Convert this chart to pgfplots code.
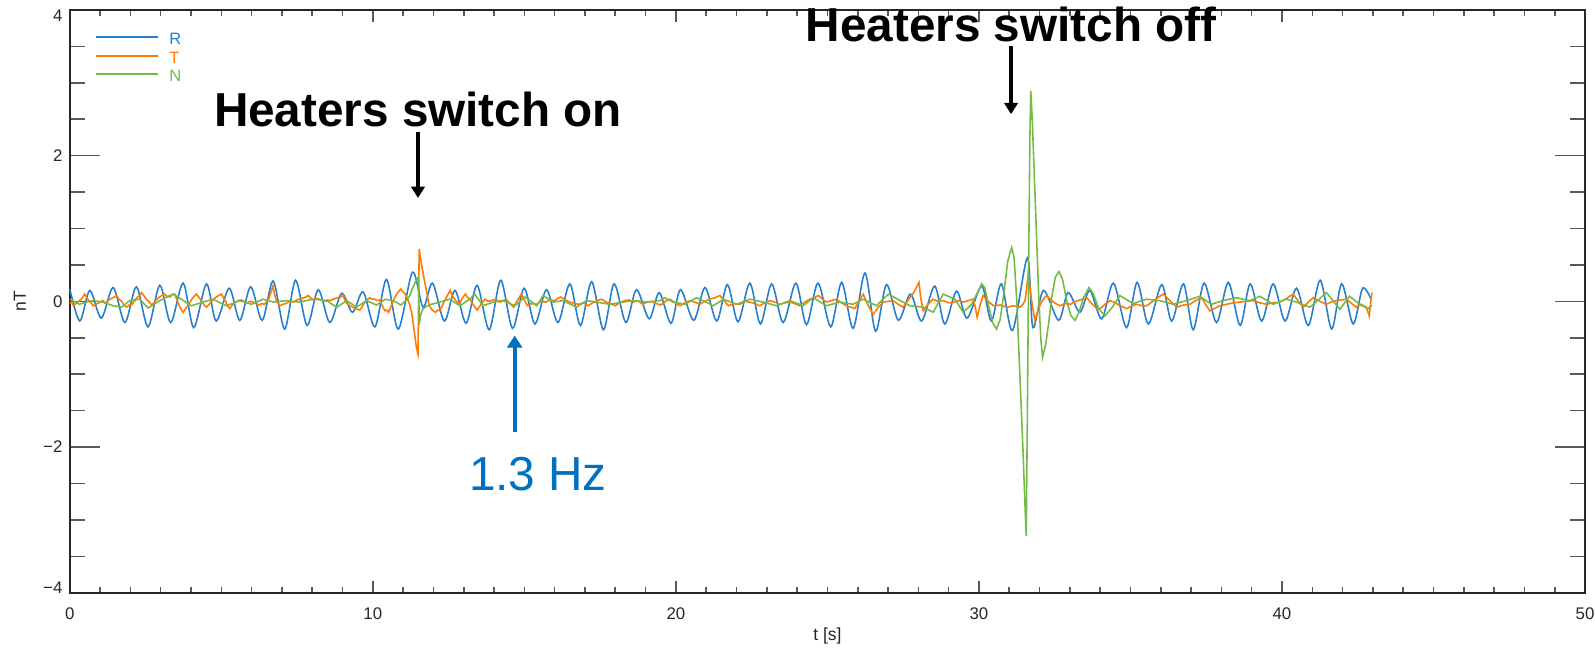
\documentclass[border=0pt]{standalone}
\usepackage{fontspec}
\setmainfont{Liberation Sans}
\usepackage{pgfplots}
\pgfplotsset{compat=1.18}
\usetikzlibrary{arrows.meta}
\definecolor{cR}{RGB}{38,126,204}
\definecolor{cT}{RGB}{255,122,0}
\definecolor{cN}{RGB}{116,186,70}
\definecolor{cArrow}{RGB}{0,112,192}
\begin{document}
\begin{tikzpicture}
\begin{axis}[
  scale only axis, width=15.197cm, height=5.845cm,
  xmin=0, xmax=50, ymin=-4, ymax=4,
  xtick={0,10,20,30,40,50}, ytick={-4,-2,0,2,4},
  yticklabels={\raisebox{0.05cm}[\height][\depth]{−4}, −2, 0, 2, \raisebox{-0.06cm}[\height][\depth]{4}},
  minor x tick num=9, minor y tick num=3,
  tick align=inside,
  xtick style={/pgfplots/major tick length=0.117cm, /pgfplots/minor tick length=0.058cm, black!65, line width=0.45pt},
  ytick style={/pgfplots/major tick length=0.30cm, /pgfplots/minor tick length=0.15cm, black!65, line width=0.45pt},
  axis line style={black!85, line width=0.5pt},
  /pgf/number format/assume math mode=true,
  ticklabel style={font=\fontsize{4.8}{5}\selectfont, text=black!85},
  xticklabel style={anchor=center, yshift=-0.215cm},
  yticklabel style={anchor=east, inner sep=0pt, xshift=-0.067cm},
  xlabel={t [s]}, ylabel={nT},
  label style={font=\fontsize{5}{6}\selectfont, text=black!85},
  xlabel style={at={(axis description cs:0.5,0)}, anchor=center, yshift=-0.434cm},
  ylabel style={at={([xshift=-0.5cm]axis description cs:0,0.5)}, anchor=center},
  clip=false,
  legend style={at={(rel axis cs:0.0165,1)}, anchor=north west, yshift=-0.23cm,
    draw=none, fill=none, inner sep=0pt, outer sep=0pt,
    font=\fontsize{4.7}{5}\selectfont, row sep=1.9pt,
    nodes={inner sep=0pt, text height=3.4pt, text depth=0pt}},
  legend cell align=left,
  legend image code/.code={\draw[#1, line width=0.5pt] (0cm,0.5pt) -- (0.63cm,0.5pt);},
]
\addplot[cR, line width=0.45pt, smooth] coordinates {
(0,0.17)(0.33,-0.27)(0.66,0.15)(1.04,-0.23)(1.43,0.19)(1.82,-0.29)(2.20,0.20)(2.58,-0.35)(2.97,0.22)(3.33,-0.29)
(3.74,0.25)(4.09,-0.36)(4.51,0.24)(4.83,-0.27)(5.26,0.18)(5.61,-0.26)(5.97,0.20)(6.35,-0.26)(6.71,0.28)(7.09,-0.38)
(7.45,0.29)(7.83,-0.33)(8.20,0.16)(8.58,-0.29)(8.97,0.11)(9.33,-0.15)(9.68,0.13)(10.07,-0.35)(10.45,0.30)(10.84,-0.38)
(11.31,0.40)(11.66,-0.08)(11.97,0.25)(12.36,-0.27)(12.71,0.15)(13.08,-0.30)(13.44,0.22)(13.84,-0.39)(14.22,0.29)(14.61,-0.37)
(14.99,0.18)(15.35,-0.31)(15.73,0.16)(16.11,-0.29)(16.50,0.24)(16.85,-0.33)(17.22,0.27)(17.61,-0.39)(17.96,0.24)(18.35,-0.29)
(18.70,0.16)(19.12,-0.24)(19.45,0.12)(19.84,-0.30)(20.15,0.16)(20.59,-0.26)(20.96,0.19)(21.35,-0.27)(21.70,0.23)(22.05,-0.28)
(22.44,0.25)(22.79,-0.31)(23.16,0.24)(23.54,-0.29)(23.96,0.25)(24.31,-0.32)(24.69,0.25)(25.11,-0.35)(25.47,0.26)(25.85,-0.37)
(26.24,0.39)(26.59,-0.41)(26.95,0.23)(27.34,-0.26)(27.74,0.10)(28.11,-0.27)(28.54,0.21)(28.87,-0.31)(29.26,0.14)(29.61,-0.23)
(30.09,0.21)(30.41,-0.27)(30.74,0.24)(31.11,-0.40)(31.60,0.60)(31.78,-0.36)(32.13,0.15)(32.63,-0.26)(32.94,0.12)(33.33,-0.15)
(33.66,0.15)(34.05,-0.24)(34.44,0.25)(34.87,-0.36)(35.22,0.26)(35.59,-0.31)(36.03,0.23)(36.36,-0.27)(36.75,0.24)(37.07,-0.39)
(37.43,0.25)(37.84,-0.29)(38.23,0.26)(38.62,-0.33)(38.95,0.24)(39.33,-0.27)(39.71,0.24)(40.10,-0.27)(40.48,0.18)(40.87,-0.33)
(41.26,0.29)(41.64,-0.38)(41.97,0.24)(42.35,-0.31)(42.66,0.18)(42.95,0.02)
};
\addlegendentry{\hspace{0.1cm}\textcolor{cR}{R}}
\addplot[cT, line width=0.45pt] coordinates {
(0,-0.03)(0.06,-0.01)(0.12,-0.06)(0.2,-0.03)(0.32,0.01)(0.4,0.04)(0.49,0.10)(0.55,0.06)(0.61,0.02)(0.7,-0.02)
(0.77,-0.06)(0.86,-0.04)(0.96,-0.02)(1.03,0.0)(1.09,0.01)(1.15,-0.02)(1.21,-0.01)(1.3,0.02)(1.41,0.05)(1.48,0.06)
(1.54,0.08)(1.62,0.03)(1.71,0.0)(1.79,-0.05)(1.87,-0.08)(1.96,-0.05)(2.06,-0.04)(2.13,0.0)(2.21,0.05)(2.3,0.08)
(2.37,0.12)(2.44,0.08)(2.51,0.04)(2.6,0.0)(2.7,-0.05)(2.8,-0.01)(2.9,0.04)(3.0,0.07)(3.13,0.10)(3.21,0.07)
(3.3,0.06)(3.38,0.09)(3.46,0.10)(3.53,0.03)(3.6,-0.05)(3.67,-0.11)(3.74,-0.15)(3.84,-0.09)(3.95,-0.02)(4.06,0.05)
(4.18,0.10)(4.27,0.05)(4.35,0.0)(4.43,-0.05)(4.51,-0.08)(4.62,-0.03)(4.74,0.03)(4.87,0.07)(5.0,0.10)(5.07,0.05)
(5.14,0.0)(5.21,-0.06)(5.28,-0.10)(5.36,-0.05)(5.44,-0.02)(5.55,0.01)(5.66,0.02)(5.75,0.0)(5.84,-0.02)(5.95,0.0)
(6.05,-0.01)(6.14,-0.03)(6.24,-0.05)(6.33,-0.03)(6.43,-0.04)(6.51,0.0)(6.58,0.05)(6.65,0.14)(6.70,0.21)(6.76,0.09)
(6.83,0.0)(6.93,-0.06)(7.03,-0.04)(7.13,-0.03)(7.25,0.0)(7.37,-0.01)(7.5,0.02)(7.63,0.04)(7.75,0.05)(7.86,0.08)
(7.94,0.05)(8.02,0.02)(8.13,0.04)(8.24,0.03)(8.34,0.01)(8.43,0.0)(8.5,0.02)(8.58,0.01)(8.7,0.03)(8.83,0.05)
(8.93,0.06)(9.02,0.08)(9.07,0.03)(9.12,-0.02)(9.18,-0.04)(9.24,-0.06)(9.33,-0.08)(9.42,-0.10)(9.5,-0.11)(9.57,-0.12)
(9.65,-0.07)(9.72,-0.02)(9.81,0.02)(9.90,0.05)(9.98,0.03)(10.07,0.03)(10.15,0.01)(10.23,0.02)(10.31,-0.06)(10.40,-0.13)
(10.46,-0.12)(10.52,-0.15)(10.62,-0.05)(10.72,0.05)(10.82,0.12)(10.92,0.17)(11.0,0.13)(11.07,0.10)(11.15,0.03)(11.22,-0.05)
(11.28,-0.15)(11.33,-0.30)(11.39,-0.48)(11.44,-0.64)(11.49,-0.72)(11.53,0.72)(11.57,0.60)(11.62,0.48)(11.67,0.36)(11.72,0.25)
(11.79,0.10)(11.86,-0.06)(11.96,-0.12)(12.07,-0.15)(12.14,-0.12)(12.21,-0.13)(12.29,-0.06)(12.36,0.0)(12.46,0.08)(12.55,0.15)
(12.62,0.08)(12.70,0.03)(12.78,-0.01)(12.85,-0.04)(12.95,0.04)(13.05,0.10)(13.12,0.06)(13.20,0.03)(13.32,-0.05)(13.44,-0.12)
(13.57,-0.04)(13.70,0.03)(13.8,0.0)(13.90,0.01)(14.05,0.03)(14.20,-0.01)(14.3,0.01)(14.40,0.03)(14.52,-0.03)(14.65,-0.08)
(14.78,0.02)(14.90,0.10)(15.0,0.02)(15.10,-0.06)(15.25,-0.03)(15.40,-0.04)(15.55,0.0)(15.70,-0.01)(15.85,0.02)(16.00,0.01)
(16.1,0.04)(16.20,0.06)(16.35,0.02)(16.50,-0.01)(16.65,-0.03)(16.80,-0.04)(16.95,-0.02)(17.10,-0.06)(17.25,-0.02)(17.40,0.01)
(17.55,0.03)(17.70,-0.01)(17.85,-0.03)(18.00,-0.06)(18.15,-0.02)(18.30,0.01)(18.45,0.02)(18.60,-0.01)(18.75,0.01)(18.90,-0.04)
(19.05,-0.01)(19.20,0.0)(19.35,-0.03)(19.50,-0.05)(19.65,0.0)(19.80,0.03)(19.97,-0.02)(20.14,-0.06)(20.3,-0.02)(20.46,0.01)
(20.62,-0.01)(20.79,-0.04)(20.95,0.0)(21.12,0.03)(21.28,0.05)(21.45,0.08)(21.6,0.01)(21.73,-0.06)(21.92,-0.03)(22.11,-0.04)
(22.28,0.0)(22.44,-0.01)(22.6,-0.03)(22.77,-0.06)(22.93,-0.02)(23.10,0.01)(23.27,-0.01)(23.43,-0.04)(23.6,-0.02)(23.76,-0.01)
(23.92,-0.03)(24.09,-0.06)(24.25,-0.01)(24.42,0.03)(24.56,0.05)(24.70,0.08)(24.84,0.03)(24.97,-0.01)(25.13,0.01)(25.30,0.03)
(25.46,-0.02)(25.63,-0.06)(25.77,-0.08)(25.90,-0.10)(26.04,0.0)(26.18,0.10)(26.34,-0.05)(26.51,-0.18)(26.68,-0.08)(26.84,-0.01)
(27.0,0.0)(27.17,0.01)(27.33,-0.04)(27.50,-0.08)(27.62,-0.01)(27.72,0.05)(27.85,0.12)(27.95,0.20)(28.02,0.26)(28.08,0.05)
(28.16,-0.13)(28.32,-0.04)(28.49,0.03)(28.65,0.0)(28.82,0.01)(29.0,-0.02)(29.16,-0.01)(29.32,0.01)(29.48,-0.01)(29.65,0.01)
(29.81,0.03)(29.88,-0.08)(29.94,-0.22)(30.04,-0.05)(30.14,0.08)(30.3,0.0)(30.48,-0.06)(30.7,-0.05)(30.92,-0.08)(31.14,-0.06)
(31.36,-0.08)(31.45,-0.04)(31.52,0.01)(31.58,0.2)(31.63,0.40)(31.67,0.25)(31.71,0.10)(31.78,-0.10)(31.85,-0.27)(31.95,-0.12)
(32.05,-0.02)(32.14,0.04)(32.24,0.08)(32.35,0.03)(32.46,-0.01)(32.57,-0.04)(32.68,-0.06)(32.85,-0.03)(33.03,-0.04)(33.12,-0.01)
(33.34,0.02)(33.56,0.05)(33.72,-0.03)(33.89,-0.10)(34.0,-0.10)(34.16,-0.04)(34.33,0.01)(34.5,-0.02)(34.66,-0.06)(34.77,-0.08)
(34.88,-0.10)(35.05,-0.06)(35.21,-0.04)(35.38,-0.06)(35.54,-0.06)(35.8,0.02)(36.08,0.10)(36.3,0.01)(36.53,-0.08)(36.75,-0.05)
(36.96,-0.04)(37.15,0.01)(37.35,0.05)(37.48,-0.04)(37.62,-0.13)(37.9,-0.07)(38.17,-0.04)(38.4,-0.02)(38.61,-0.01)(38.83,0.0)
(39.05,0.01)(39.27,-0.02)(39.49,-0.04)(39.71,-0.02)(39.93,-0.01)(40.15,0.04)(40.37,0.10)(40.54,0.0)(40.70,-0.08)(40.87,-0.01)
(41.03,0.05)(41.25,0.0)(41.46,-0.04)(41.62,-0.01)(41.79,0.01)(41.95,0.02)(42.12,0.03)(42.3,-0.03)(42.45,-0.08)(42.6,-0.04)
(42.78,-0.08)(42.88,-0.20)(42.93,0.0)(42.97,0.12)
};
\addlegendentry{\hspace{0.1cm}\textcolor{cT}{T}}
\addplot[cN, line width=0.45pt] coordinates {
(0,0.03)(0.32,-0.04)(0.55,-0.01)(0.77,0.01)(1.10,-0.01)(1.43,-0.06)(1.71,-0.08)(1.98,0.01)(2.31,0.03)(2.58,-0.09)
(2.97,0.01)(3.2,0.06)(3.41,0.10)(3.68,0.03)(4.01,-0.06)(4.40,-0.01)(4.72,0.03)(5.17,-0.06)(5.61,0.01)(6.00,-0.04)
(6.38,0.03)(6.71,-0.01)(7.15,0.01)(7.59,-0.01)(8.03,0.03)(8.47,0.01)(8.81,-0.08)(9.14,0.01)(9.46,-0.08)(9.79,0.01)
(10.12,-0.05)(10.42,0.03)(10.72,0.0)(10.92,-0.05)(11.12,0.02)(11.22,0.08)(11.31,0.18)(11.41,0.27)(11.50,0.33)(11.52,0.0)
(11.53,-0.32)(11.58,-0.18)(11.66,-0.10)(11.8,-0.06)(11.93,-0.04)(12.21,-0.01)(12.54,0.03)(12.87,-0.06)(13.20,0.03)(13.36,0.10)
(13.64,-0.06)(13.97,-0.01)(14.30,0.01)(14.69,-0.06)(15.02,0.06)(15.41,-0.06)(15.62,0.08)(15.95,-0.01)(16.28,0.01)(16.72,-0.08)
(17.05,0.01)(17.38,-0.01)(17.82,-0.04)(18.26,-0.01)(18.59,0.01)(19.03,-0.01)(19.47,0.01)(19.63,0.05)(19.91,-0.01)(20.30,-0.04)
(20.68,0.05)(20.90,0.01)(21.23,-0.06)(21.57,0.03)(22.00,-0.04)(22.44,0.03)(22.88,-0.01)(23.32,-0.06)(23.76,0.01)(24.20,-0.06)
(24.53,0.05)(24.97,-0.06)(25.41,-0.01)(25.85,-0.04)(26.18,0.03)(26.62,-0.06)(27.01,0.10)(27.40,0.01)(27.73,-0.06)(28.17,-0.08)
(28.49,-0.15)(28.82,0.10)(29.21,0.03)(29.48,-0.15)(29.76,-0.04)(29.93,0.10)(30.09,0.24)(30.2,0.18)(30.34,-0.10)(30.46,-0.30)
(30.58,-0.38)(30.7,-0.25)(30.82,0.10)(30.95,0.55)(31.08,0.74)(31.16,0.60)(31.25,0.0)(31.35,-1.0)(31.45,-2.0)(31.52,-2.8)
(31.56,-3.22)(31.60,-1.5)(31.64,0.5)(31.68,2.2)(31.71,2.89)(31.76,2.5)(31.83,1.7)(31.90,0.9)(31.97,0.1)(32.04,-0.5)
(32.10,-0.77)(32.2,-0.6)(32.3,-0.3)(32.4,0.05)(32.52,0.33)(32.64,0.41)(32.76,0.30)(32.9,0.0)(33.04,-0.20)(33.17,-0.26)
(33.3,-0.15)(33.45,0.05)(33.63,0.19)(33.78,0.10)(33.95,-0.10)(34.16,-0.20)(34.4,-0.08)(34.65,0.08)(35.09,-0.03)(35.53,0.03)
(35.97,0.01)(36.41,-0.04)(36.85,0.01)(37.29,0.07)(37.67,-0.04)(38.05,0.01)(38.49,0.05)(38.94,0.01)(39.27,0.07)(39.71,-0.04)
(40.14,0.03)(40.47,-0.01)(40.92,-0.08)(41.2,0.02)(41.47,0.12)(41.7,0.0)(41.91,-0.11)(42.23,0.07)(42.56,-0.04)(42.84,-0.10)
(42.97,-0.05)
};
\addlegendentry{\hspace{0.1cm}\textcolor{cN}{N}}
\node[font=\fontsize{13.6}{16}\selectfont\bfseries] at (axis cs:11.49,2.63) {Heaters switch on};
\draw[-{Triangle[width=3.8pt,length=3.2pt]}, line width=1.1pt] (axis cs:11.49,2.33) -- (axis cs:11.49,1.42);
\node[font=\fontsize{13.6}{16}\selectfont\bfseries] at (axis cs:31.06,3.80) {Heaters switch off};
\draw[-{Triangle[width=3.8pt,length=3.2pt]}, line width=1.1pt] (axis cs:31.06,3.51) -- (axis cs:31.06,2.57);
\draw[-{Triangle[width=4.2pt,length=3.4pt]}, line width=1.1pt, cArrow] (axis cs:14.68,-1.80) -- (axis cs:14.68,-0.47);
\node[font=\fontsize{13.6}{16}\selectfont, text=cArrow] at (axis cs:15.45,-2.37) {1.3 Hz};
\end{axis}
\pgfresetboundingbox
\path[use as bounding box] (-0.70,-0.585) rectangle (15.297,5.945);
\end{tikzpicture}
\end{document}
